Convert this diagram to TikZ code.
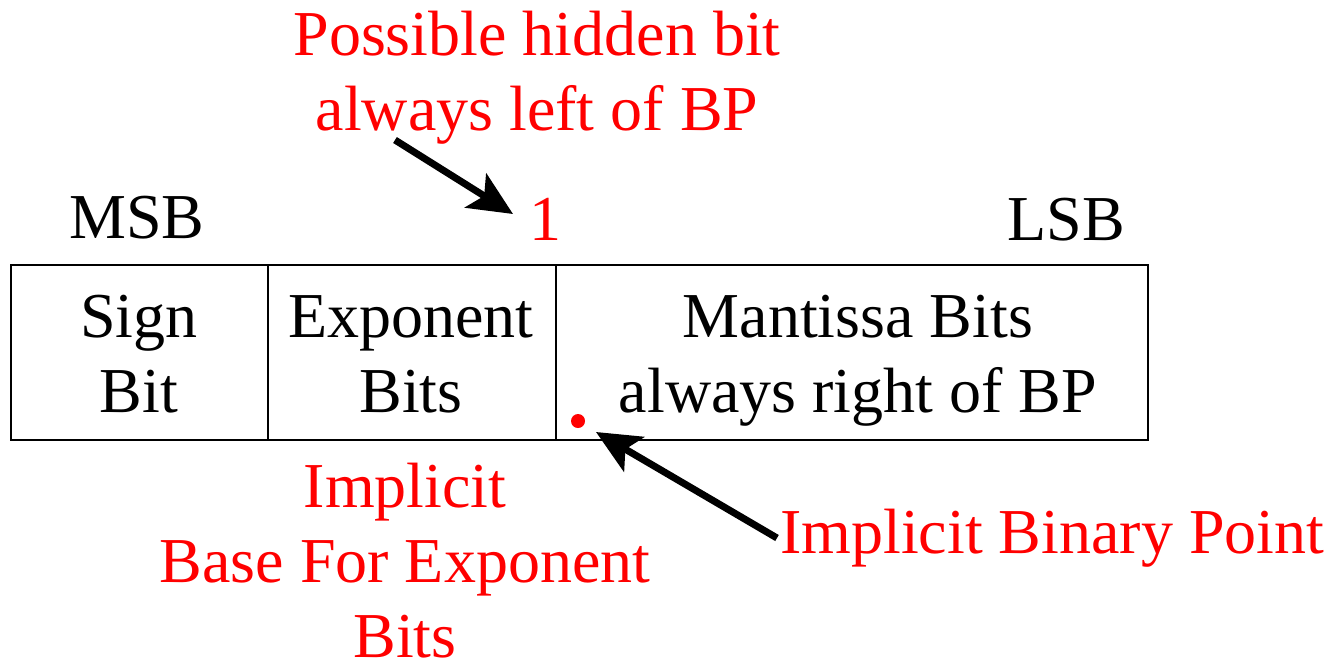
\documentclass[tikz,border=0pt]{standalone}
\usepackage{fontspec}
\setmainfont{Liberation Serif}
\usetikzlibrary{arrows.meta}
\definecolor{annot}{RGB}{255,0,0}
\tikzset{
  field/.style={draw, line width=2pt, minimum height=175pt, inner sep=0pt},
  lbl/.style={inner sep=0pt, anchor=base, align=center, font=\fontsize{64}{75}\selectfont},
  red lbl/.style={lbl, text=annot},
  pointer/.style={line width=7pt, -{Stealth[length=44pt,width=40pt,inset=10pt]}}
}
\begin{document}
\begin{tikzpicture}[x=1pt,y=-1pt]
\useasboundingbox (0,0) rectangle (1332,670);
\node[field, minimum width=257pt] (sign) at (139.5,352.5) {};
\node[field, minimum width=288pt] (exp) at (412,352.5) {};
\node[field, minimum width=592pt] (mant) at (852,352.5) {};
\node[lbl] (signtxt) at (139,412) {Sign\\Bit};
\node[lbl] (exptxt) at (411,412) {Exponent\\Bits};
\node[lbl] (manttxt) at (858,412) {Mantissa Bits\\always right of BP};
\node[lbl] (msb) at (137,238) {MSB};
\node[lbl] (lsb) at (1066,240) {LSB};
\node[red lbl] (one) at (545,240) {1};
\node[red lbl] (hidden) at (537,130) {Possible hidden bit\\always left of BP};
\node[red lbl] (base) at (405,657) {Implicit\\Base For Exponent\\Bits};
\node[red lbl, anchor=base west] (bp) at (780,553) {Implicit Binary Point};
\fill[annot] (578,421) circle (7pt) coordinate (dot);
\coordinate (t1) at (395,140);
\coordinate (h1) at (513,214);
\coordinate (t2) at (777,538);
\coordinate (h2) at (596,432);
\draw[pointer] (t1) -- (h1);
\draw[pointer] (t2) -- (h2);
\end{tikzpicture}
\end{document}
